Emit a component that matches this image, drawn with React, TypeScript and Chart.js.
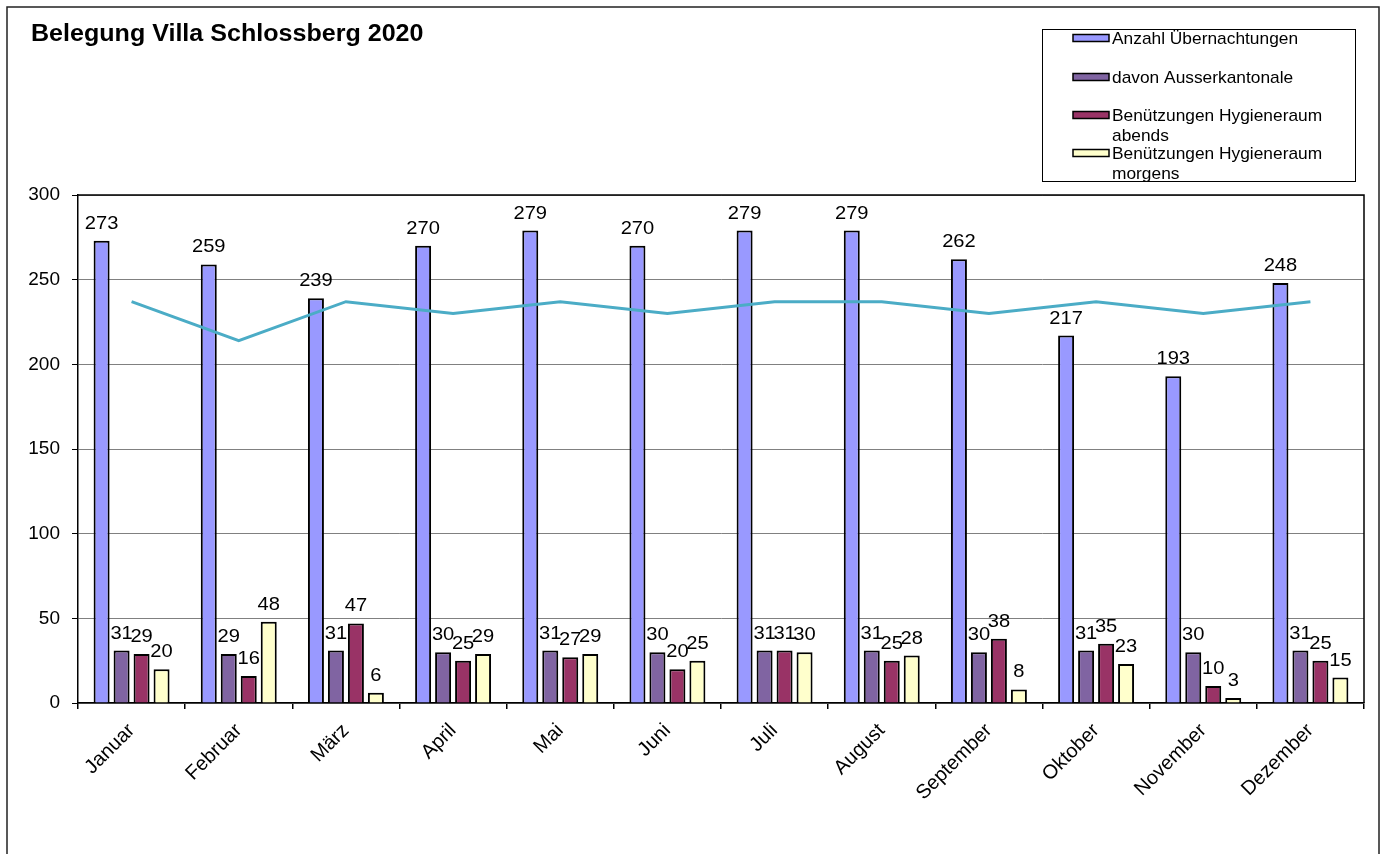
import React, { useEffect, useRef } from "react";
import { Chart, registerables } from "chart.js";

Chart.register(...registerables);

const FONT = '"Liberation Sans", Arial, Helvetica, sans-serif';

const chartTitle = "Belegung Villa Schlossberg 2020";
const months = [
  "Januar", "Februar", "März", "April", "Mai", "Juni",
  "Juli", "August", "September", "Oktober", "November", "Dezember",
];
const uebernachtungen = [273, 259, 239, 270, 279, 270, 279, 279, 262, 217, 193, 248];
const ausserkantonale = [31, 29, 31, 30, 31, 30, 31, 31, 30, 31, 30, 31];
const hygieneAbends = [29, 16, 47, 25, 27, 20, 31, 25, 38, 35, 10, 25];
const hygieneMorgens = [20, 48, 6, 29, 29, 25, 30, 28, 8, 23, 3, 15];
const kapazitaet = [237, 214, 237, 230, 237, 230, 237, 237, 230, 237, 230, 237];

const seriesLabels = [
  "Anzahl Übernachtungen",
  "davon Ausserkantonale",
  "Benützungen Hygieneraum abends",
  "Benützungen Hygieneraum morgens",
];
const legendLines = [
  ["Anzahl Übernachtungen"],
  ["davon Ausserkantonale"],
  ["Benützungen Hygieneraum", "abends"],
  ["Benützungen Hygieneraum", "morgens"],
];
const seriesColors = ["#9999FF", "#8064A2", "#993366", "#FFFFCC"];
const lineColor = "#4BACC6";
const yMin = 0;
const yMax = 300;
const yStep = 50;

function stretchText(
  ctx: CanvasRenderingContext2D,
  text: string,
  x: number,
  y: number,
  sx: number,
  align: CanvasTextAlign,
  baseline: CanvasTextBaseline
) {
  ctx.save();
  ctx.translate(x, y);
  ctx.scale(sx, 1);
  ctx.textAlign = align;
  ctx.textBaseline = baseline;
  ctx.fillText(text, 0, 0);
  ctx.restore();
}

const decorPlugin = {
  id: "decor",
  beforeDraw(chart: any) {
    const ctx = chart.ctx as CanvasRenderingContext2D;
    ctx.save();
    ctx.fillStyle = "#ffffff";
    ctx.fillRect(0, 0, chart.width, chart.height);
    ctx.restore();
  },
  afterDatasetsDraw(chart: any) {
    const ctx = chart.ctx as CanvasRenderingContext2D;
    ctx.save();
    ctx.fillStyle = "#000";
    ctx.font = `19px ${FONT}`;
    chart.data.datasets.forEach((ds: any, i: number) => {
      if (ds.type === "line") return;
      const meta = chart.getDatasetMeta(i);
      meta.data.forEach((bar: any, j: number) => {
        stretchText(ctx, String(ds.data[j]), bar.x, bar.y - 12, 1.06, "center", "alphabetic");
      });
    });
    ctx.restore();
  },
  afterDraw(chart: any) {
    const ctx = chart.ctx as CanvasRenderingContext2D;
    const a = chart.chartArea;
    ctx.save();
    // plot frame (top + right)
    ctx.strokeStyle = "#000";
    ctx.lineWidth = 1.5;
    ctx.beginPath();
    ctx.moveTo(a.left, a.top);
    ctx.lineTo(a.right, a.top);
    ctx.lineTo(a.right, a.bottom);
    ctx.stroke();

    // outer frame
    ctx.strokeStyle = "#222";
    ctx.lineWidth = 1.5;
    ctx.beginPath();
    ctx.moveTo(7, chart.height);
    ctx.lineTo(7, 7);
    ctx.lineTo(1379, 7);
    ctx.lineTo(1379, chart.height);
    ctx.stroke();

    // title
    ctx.fillStyle = "#000";
    ctx.font = `bold 23px ${FONT}`;
    stretchText(ctx, chartTitle, 31, 41, 1.09, "left", "alphabetic");

    // legend
    ctx.strokeStyle = "#000";
    ctx.lineWidth = 1;
    ctx.strokeRect(1042.5, 29.5, 313, 152);
    const rowY = [38, 77, 115, 153];
    ctx.font = `17px ${FONT}`;
    legendLines.forEach((lines, i) => {
      const y = rowY[i];
      ctx.fillStyle = seriesColors[i];
      ctx.fillRect(1073, y - 3.5, 36, 7);
      ctx.lineWidth = 1.5;
      ctx.strokeStyle = "#000";
      ctx.strokeRect(1073, y - 3.5, 36, 7);
      ctx.fillStyle = "#000";
      lines.forEach((t, k) => {
        stretchText(ctx, t, 1112, y + 1 + k * 20, 1.02, "left", "middle");
      });
    });
    ctx.restore();
  },
};

export default function App() {
  const ref = useRef<HTMLCanvasElement | null>(null);

  useEffect(() => {
    if (!ref.current) return;
    Chart.defaults.font.family = FONT;
    Chart.defaults.color = "#000";
    const barDs = [uebernachtungen, ausserkantonale, hygieneAbends, hygieneMorgens].map(
      (d, i) => ({
        type: "bar" as const,
        label: seriesLabels[i],
        data: d,
        backgroundColor: seriesColors[i],
        borderColor: "#000",
        borderWidth: 2,
        categoryPercentage: 0.746,
        barPercentage: 0.8,
        order: 1,
      })
    );
    const chart = new Chart(ref.current, {
      type: "bar",
      data: {
        labels: months,
        datasets: [
          {
            type: "line" as const,
            label: "Kapazität",
            data: kapazitaet,
            borderColor: lineColor,
            backgroundColor: lineColor,
            borderWidth: 3,
            pointRadius: 0,
            tension: 0,
            order: 0,
          },
          ...barDs,
        ] as any,
      },
      options: {
        responsive: false,
        animation: false,
        devicePixelRatio: 1,
        layout: { padding: { left: 0, right: 20, top: 195, bottom: 0 } },
        plugins: {
          legend: { display: false },
          title: { display: false },
          tooltip: { enabled: false },
        },
        scales: {
          x: {
            offset: true,
            grid: {
              display: true,
              offset: true,
              drawOnChartArea: false,
              drawTicks: true,
              tickLength: 6,
              color: "#000",
              lineWidth: 1.5,
            },
            border: { display: true, color: "#000", width: 1.5 },
            ticks: {
              autoSkip: false,
              minRotation: 45,
              maxRotation: 45,
              padding: 10,
              color: "#000",
              font: { size: 20, family: FONT },
            },
            afterFit: (scale: any) => {
              scale.height = 151;
            },
          },
          y: {
            min: yMin,
            max: yMax,
            ticks: {
              stepSize: yStep,
              padding: 12,
              color: "#000",
              font: { size: 19, family: FONT },
            },
            grid: {
              color: "#808080",
              tickColor: "#000",
              tickLength: 6,
              lineWidth: 1,
            },
            border: { display: true, color: "#000", width: 1.5 },
            afterFit: (scale: any) => {
              scale.width = 78;
            },
          },
        },
      },
      plugins: [decorPlugin],
    });
    return () => chart.destroy();
  }, []);

  return (
    <canvas
      ref={ref}
      width={1384}
      height={854}
      style={{ position: "fixed", left: 0, top: 0, width: 1384, height: 854, display: "block" }}
    />
  );
}
